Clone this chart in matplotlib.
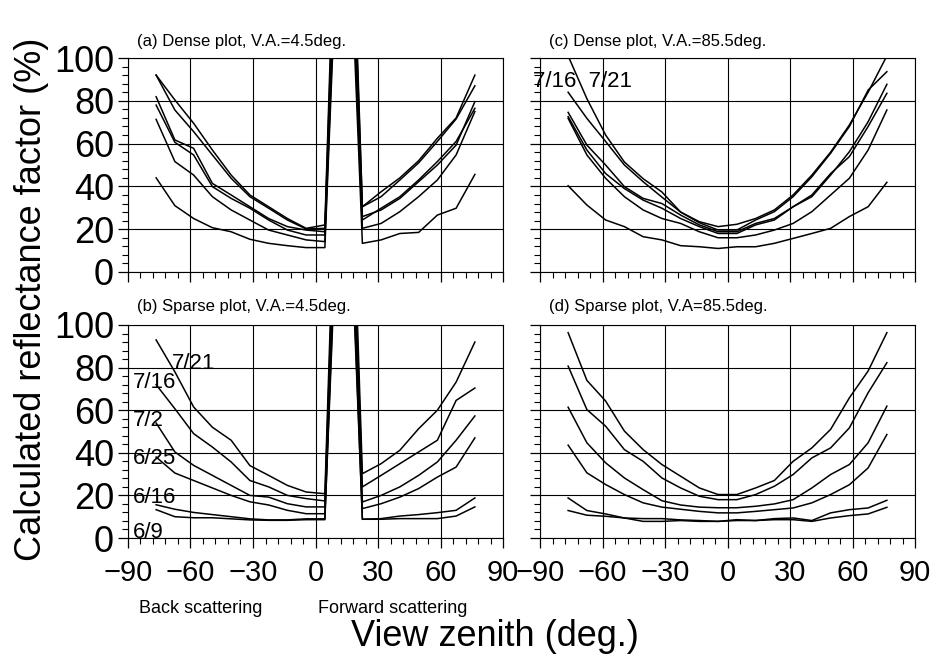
import numpy as np
import matplotlib
matplotlib.use('Agg')
import matplotlib.pyplot as plt
from matplotlib.ticker import MultipleLocator

plt.rcParams['font.family'] = ['Liberation Sans', 'DejaVu Sans']

# view zenith bins (deg), 9 deg wide
vza = [-76.5, -67.5, -58.5, -49.5, -40.5, -31.5, -22.5, -13.5, -4.5,
       4.5, 13.5, 22.5, 31.5, 40.5, 49.5, 58.5, 67.5, 76.5]
dates = ['7/21', '7/16', '7/2', '6/25', '6/16', '6/9']

# (a) dense canopy, view azimuth 4.5 deg (hot spot at 13.5 deg)
dense_va45 = [
    [92, 80.4, 69.5, 57, 45.3, 36, 30.5, 25, 20.4, 22, 300, 30.5, 37.5, 44, 52, 62.5, 72, 92],
    [92, 75.7, 65.6, 54.7, 43.8, 35.2, 29.8, 24.3, 20.1, 20.4, 280, 30.5, 35.2, 43, 51, 61, 71.5, 87],
    [81.9, 61.7, 57.8, 41.4, 36, 30.5, 25, 21.2, 19.6, 18.8, 260, 25.9, 29, 34.4, 42.2, 50, 59.3, 79.6],
    [78, 60.6, 54.7, 39.9, 34.4, 29.8, 24.3, 19.6, 17.3, 17.3, 250, 24.3, 29.8, 35.2, 43, 51.6, 61, 76.5],
    [71.3, 51.6, 45.3, 35.2, 29, 24.3, 19.6, 17.3, 15, 14.2, 240, 20.4, 22.7, 28.2, 35.2, 43, 54.7, 75],
    [44, 31, 25, 20.7, 18.8, 15.3, 13.4, 12.3, 11.4, 11.4, 230, 13.4, 15, 18, 18.5, 26.6, 29.8, 45.6],
]
# (b) sparse canopy, view azimuth 4.5 deg
sparse_va45 = [
    [93, 78, 61.5, 52, 45.9, 34, 29.4, 24.7, 21.6, 20.8, 300, 30.2, 34.9, 41.2, 51.3, 60, 73.2, 92],
    [72, 60.7, 49, 42.7, 35.7, 27, 24, 20, 18.5, 17.4, 280, 24, 29.4, 34.9, 40.4, 45.9, 64.6, 70.4],
    [54, 40.4, 34.1, 29.4, 24.7, 20, 19.2, 16.1, 14.6, 14.6, 260, 16.9, 20, 24, 29.4, 35.7, 45.9, 57.3],
    [38, 30.5, 27, 23.5, 20, 17, 15.5, 13, 11.4, 11.4, 250, 13.8, 16.1, 19.2, 23.2, 28.6, 33.3, 47],
    [15.6, 13.5, 12, 11, 10, 9, 8.5, 8.5, 9, 9, 240, 8.8, 9.1, 10.3, 11, 11.9, 13, 18.8],
    [13.3, 10, 9.5, 9.5, 9, 8.5, 8.3, 8.3, 8.6, 8.6, 230, 8.8, 8.8, 9.1, 9.1, 9.1, 10.3, 14.6],
]
# (c) dense canopy, view azimuth 85.5 deg
dense_va855 = [
    [101, 81, 64, 51.4, 43.6, 37.4, 28, 23.5, 21.2, 22.3, 25, 29, 36, 45.3, 56, 68.7, 84, 101],
    [84, 71.8, 61, 50, 42.2, 35, 28, 23, 19.6, 19.6, 24.3, 28.2, 35.2, 44.5, 55.5, 68, 85, 93.6],
    [74.6, 59.3, 50, 39.9, 34.4, 32, 26.6, 22, 18.8, 18.8, 22.7, 25, 30.5, 35.2, 45.3, 56.2, 70.2, 87.7],
    [72.6, 57, 46, 39, 33.6, 29.8, 25, 21.2, 18, 18, 22, 24.3, 30.5, 36, 46, 53.9, 68, 83.5],
    [71.8, 54.7, 43.8, 35.2, 29, 25, 22.7, 18.8, 16, 16, 17.3, 19.6, 22.7, 28.2, 36, 43.8, 57, 75.7],
    [40.3, 31.3, 24.3, 21.2, 16.5, 15, 12.3, 11.8, 11, 11.8, 11.8, 13.4, 15.7, 18, 20.4, 25.9, 30.5, 41.9],
]
# (d) sparse canopy, view azimuth 85.5 deg
sparse_va855 = [
    [96.4, 74, 64.3, 50.2, 41.5, 34.5, 29, 23.5, 20.4, 20.4, 23.5, 27, 36, 42.3, 51, 65.8, 78.4, 96.4],
    [80.7, 60.3, 52.5, 41.5, 36, 28.2, 23.5, 19.6, 18, 18, 20.4, 24.3, 29.8, 37.6, 42.3, 51.7, 68.2, 82.3],
    [61.4, 44.7, 35.3, 28.2, 22.7, 17.5, 15.5, 14.5, 14.2, 14.2, 14.9, 16, 18, 23.5, 29.8, 34.5, 44.7, 61.9],
    [43.6, 30.6, 25.1, 20.4, 16.5, 14.5, 13.5, 12.5, 11.8, 11.8, 12.5, 13.3, 14.1, 16.5, 20.4, 25, 32.9, 48.6],
    [18.8, 12.9, 11.3, 9.4, 7.8, 7.8, 8.2, 7.8, 7.8, 8.6, 8.2, 9.1, 9.4, 8.2, 11.8, 13.3, 14.1, 17.7],
    [12.9, 10.7, 10.2, 9.4, 9.1, 9.1, 8.5, 8.2, 7.8, 8.2, 8.2, 8.6, 8.6, 7.8, 9.4, 10.5, 11.3, 14.4],
]

titles = ['(a) Dense plot, V.A.=4.5deg.', '(b) Sparse plot, V.A.=4.5deg.',
          '(c) Dense plot, V.A.=85.5deg.', '(d) Sparse plot, V.A=85.5deg.']
xticks = [-90, -60, -30, 0, 30, 60, 90]
xticklabels = ['\u221290', '\u221260', '\u221230', '0', '30', '60', '90']
yticks = [0, 20, 40, 60, 80, 100]

fig = plt.figure(figsize=(9.36, 6.56), dpi=100)
W, H = 936, 656
boxes = {  # left, top, right, bottom in pixels
    'a': (128, 58, 503, 272), 'c': (540, 58, 915, 272),
    'b': (128, 325, 503, 538), 'd': (540, 325, 915, 538),
}
panels = [('a', dense_va45), ('b', sparse_va45), ('c', dense_va855), ('d', sparse_va855)]

for i, (key, data) in enumerate(panels):
    l, t, r, b = boxes[key]
    ax = fig.add_axes([l / W, 1 - b / H, (r - l) / W, (b - t) / H])
    for ys in data:
        ax.plot(vza, ys, color='black', lw=1.1)
    ax.set_xlim(-90, 90)
    ax.set_ylim(0, 100)
    ax.set_xticks(xticks)
    ax.set_yticks(yticks)
    ax.xaxis.set_minor_locator(MultipleLocator(6))
    ax.yaxis.set_minor_locator(MultipleLocator(4))
    ax.grid(True, which='major', color='black', lw=0.8)
    ax.tick_params(which='major', direction='out', length=7, width=0.9)
    ax.tick_params(which='minor', direction='out', length=4, width=0.8)
    if key in 'ab':
        ax.set_yticklabels([str(v) for v in yticks], fontsize=26)
        ax.tick_params(axis='y', pad=3)
    else:
        ax.set_yticklabels([])
    if key in 'bd':
        ax.set_xticklabels(xticklabels, fontsize=21)
        ax.tick_params(axis='x', pad=8)
    else:
        ax.set_xticklabels([])
    ty = 1.075 if key in 'ac' else 1.085
    ax.text(0.025, ty, titles[i], transform=ax.transAxes, fontsize=12,
            ha='left', va='center')
    if key == 'b':
        lab_pos = [(-69, 82), (-87.6, 73), (-87.6, 55), (-87.6, 37.5), (-87.6, 19), (-87.6, 2.5)]
        for d, (x, y) in zip(dates, lab_pos):
            ax.text(x, y, d, fontsize=16, ha='left', va='center')
    if key == 'c':
        ax.text(-93.4, 89, '7/16  7/21', fontsize=16, ha='left', va='center')

fig.text(0.034, 0.543, 'Calculated reflectance factor (%)', rotation=90,
         ha='center', va='center', fontsize=26)
fig.text(0.529, 0.030, 'View zenith (deg.)', ha='center', va='center', fontsize=26)
fig.text(0.214, 0.072, 'Back scattering', ha='center', va='center', fontsize=13)
fig.text(0.42, 0.072, 'Forward scattering', ha='center', va='center', fontsize=13)

fig.savefig('out.png', dpi=100)
